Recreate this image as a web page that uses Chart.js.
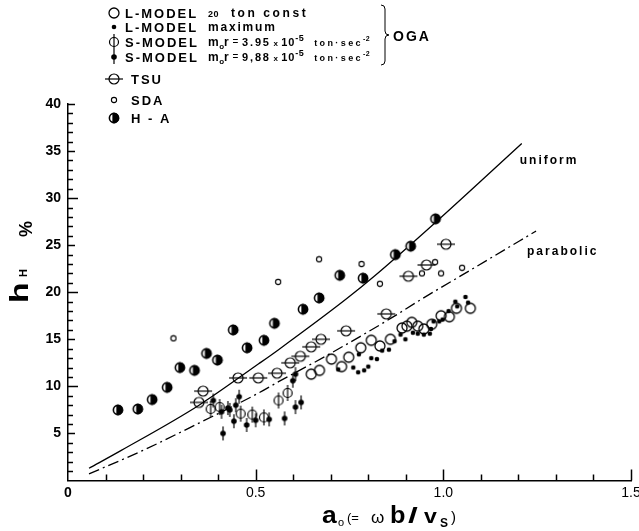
<!DOCTYPE html>
<html>
<head>
<meta charset="utf-8">
<script src="https://cdn.jsdelivr.net/npm/chart.js@4.4.0/dist/chart.umd.min.js"></script>
<style>
  html,body{margin:0;padding:0;background:#fff;}
  #wrap{width:639px;height:531px;}
</style>
</head>
<body>
<div id="wrap"><canvas id="c" width="639" height="531"></canvas></div>
<script>
/* ---- axis ticks ---- */
var xTickVals=[0,0.5,1.0,1.5], xTickLabels=['0','0.5','1.0','1.5'];
var yTickVals=[5,10,15,20,25,30,35,40], yTickLabels=['5','10','15','20','25','30','35','40'];

/* ---- theory curves (a0 , hH %) ---- */
var uniA=[0.056,0.142,0.349,0.508,0.561,0.742,0.819,0.976,1.209];
var uniH=[1.3,3.2,8.0,12.4,13.9,19.3,21.8,27.3,35.8];
var parA=[0.056,0.2,0.349,0.508,0.561,0.686,0.863,0.935,1.07,1.247];
var parH=[0.7,3.2,6.1,9.3,10.5,13.2,17.3,19.1,22.3,26.5];

/* ---- OGA experiments ---- */
var lConstA=[0.648,0.670,0.702,0.729,0.748,0.780,0.808,0.831,0.859,0.890,0.903,0.916,0.932,0.948,0.969,0.994,1.016,1.035,1.072];
var lConstH=[11.3,11.7,12.9,12.1,13.1,14.1,14.9,14.3,15.0,16.2,16.4,16.8,16.4,16.1,16.6,17.5,17.4,18.3,18.3];
var lMaxA=[0.720,0.760,0.773,0.789,0.800,0.775,0.808,0.823,0.837,0.855,0.870,0.886,0.899,0.919,0.932,0.948,0.964,0.967,0.974,0.989,0.998,1.014,1.032,1.037,1.059,1.066];
var lMaxH=[11.8,12.0,11.5,11.7,12.1,13.4,13.0,12.9,13.8,13.9,14.8,15.5,15.0,15.7,15.6,15.5,15.6,16.1,16.9,16.9,17.1,18.0,19.0,18.5,19.5,18.9];
var sOpenA=[0.380,0.404,0.460,0.491,0.522,0.561,0.585];
var sOpenH=[7.6,7.8,7.1,7.0,6.7,8.5,9.3];
var sFillA=[0.387,0.409,0.413,0.426,0.431,0.442,0.447,0.456,0.476,0.500,0.536,0.577,0.599,0.606,0.606,0.621];
var sFillH=[8.5,7.3,5.0,7.7,7.5,6.3,8.0,8.9,5.9,6.4,6.5,6.6,10.6,11.3,7.8,8.3];

/* ---- other data ---- */
var tsuA=[0.349,0.360,0.453,0.507,0.557,0.592,0.619,0.648,0.674,0.741,0.848,0.907,0.955,1.007];
var tsuH=[8.3,9.5,10.9,10.9,11.4,12.5,13.2,14.2,15.0,15.9,17.7,21.7,22.9,25.1];
var sdaA=[0.281,0.560,0.669,0.782,0.831,0.943,0.978,0.994,1.050];
var sdaH=[15.1,21.1,23.5,23.0,20.9,22.0,23.2,22.0,22.6];
var haA=[0.133,0.186,0.224,0.264,0.298,0.337,0.369,0.398,0.440,0.477,0.522,0.550,0.626,0.669,0.724,0.786,0.872,0.913,0.979];
var haH=[7.5,7.6,8.6,9.9,12.0,11.7,13.5,12.8,16.0,14.1,14.9,16.7,18.2,19.4,21.8,21.5,24.0,24.9,27.8];

/* ---- legend ---- */
var legSyms=['lConst','lMax','sOpen','sFill','tsu','sda','ha'];
var legNames=['L-MODEL','L-MODEL','S-MODEL','S-MODEL','TSU','SDA','H - A'];
var legY=[13,27,42,57,79,100,118];

var FF='"Liberation Sans", Arial, sans-serif';

function pts(xs,ys){return xs.map(function(v,i){return {x:v,y:ys[i]};});}

/* custom marker images */
function mark(sz,fn){
  var c=document.createElement('canvas');c.width=sz;c.height=sz;
  var g=c.getContext('2d');g.translate(sz/2,sz/2);g.strokeStyle='#000';g.fillStyle='#000';fn(g);return c;
}
var M={
  lConst:mark(14,function(g){g.lineWidth=1.3;g.beginPath();g.arc(0,0,5,0,Math.PI*2);g.stroke();}),
  lMax:mark(8,function(g){g.beginPath();g.arc(0,0,2.3,0,Math.PI*2);g.fill();}),
  sOpen:mark(20,function(g){g.lineWidth=1.2;g.beginPath();g.arc(0,0,4.5,0,Math.PI*2);g.stroke();
    g.beginPath();g.moveTo(0,-8);g.lineTo(0,8);g.stroke();}),
  sFill:mark(18,function(g){g.beginPath();g.arc(0,0,2.8,0,Math.PI*2);g.fill();
    g.lineWidth=1.2;g.beginPath();g.moveTo(0,-7);g.lineTo(0,7);g.stroke();}),
  tsu:mark(22,function(g){g.lineWidth=1.2;g.beginPath();g.arc(0,0,5,0,Math.PI*2);g.stroke();
    g.beginPath();g.moveTo(-9,0);g.lineTo(9,0);g.stroke();}),
  sda:mark(8,function(g){g.lineWidth=1.1;g.beginPath();g.arc(0,0,2.6,0,Math.PI*2);g.stroke();}),
  ha:mark(14,function(g){g.fillStyle='#fff';g.beginPath();g.arc(0,0,5,0,Math.PI*2);g.fill();
    g.fillStyle='#000';g.beginPath();g.arc(0,0,5.2,-Math.PI*0.6,Math.PI*0.6);g.fill();
    g.lineWidth=1.6;g.beginPath();g.arc(0,0,4.6,0,Math.PI*2);g.stroke();})
};

/* text run helper: [text, font, dy, letterSpacing] */
function runs(ctx,x,y,list){
  list.forEach(function(r){
    ctx.font=r[1]+' '+FF;ctx.letterSpacing=(r[3]||0)+'px';
    ctx.fillText(r[0],x,y+(r[2]||0));
    x+=ctx.measureText(r[0]).width;
  });
  ctx.letterSpacing='0px';
  return x;
}
var legNotes=[
  [['20','bold 9px',0,0.5],['  ton const','bold 12px',0,2.6]],
  [['maximum','bold 12px',0,1.8]],
  [['m','bold 12px',0,0.5],['o','bold 8px',3,0],['r','bold 12px',0,0.5],[' = ','10px',-1,0.5],['3.95','bold 11px',0,1.8],[' x ','bold 8px',0,0.5],['10','bold 11px',0,1],['-5','bold 9px',-5,0.5],['  ton·sec','bold 9px',0,2.4],['-2','bold 7px',-5,0.5]],
  [['m','bold 12px',0,0.5],['o','bold 8px',3,0],['r','bold 12px',0,0.5],[' = ','10px',-1,0.5],['9,88','bold 11px',0,1.8],[' x ','bold 8px',0,0.5],['10','bold 11px',0,1],['-5','bold 9px',-5,0.5],['  ton·sec','bold 9px',0,2.4],['-2','bold 7px',-5,0.5]],
  [],[],[]
];

var decor={id:'decor',afterDraw:function(ch){
  var ctx=ch.ctx,xs=ch.scales.x,ys=ch.scales.y;
  ctx.save();
  ctx.strokeStyle='#000';ctx.fillStyle='#000';ctx.lineWidth=1.5;
  /* inward tick marks */
  var x0=xs.getPixelForValue(0),y0=ys.getPixelForValue(0);
  for(var i=1;i<=15;i++){
    var px=Math.round(xs.getPixelForValue(i/10))+0.5,len=(i%5===0)?11:6;
    ctx.beginPath();ctx.moveTo(px,y0);ctx.lineTo(px,y0-len);ctx.stroke();
  }
  for(var j=1;j<=40;j++){
    var py=Math.round(ys.getPixelForValue(j))+0.5,l=(j%10===0&&j<40)?10:(j%5===0?7:5);
    ctx.beginPath();ctx.moveTo(x0,py);ctx.lineTo(x0+l,py);ctx.stroke();
  }
  /* curve labels */
  var n=uniA.length-1,m=parA.length-1;
  ctx.textBaseline='alphabetic';
  runs(ctx,xs.getPixelForValue(uniA[n])-2,ys.getPixelForValue(uniH[n])+20,[['uniform','bold 12px',0,2]]);
  runs(ctx,xs.getPixelForValue(parA[m])-9,ys.getPixelForValue(parH[m])+24,[['parabolic','bold 12px',0,2]]);
  /* legend */
  legSyms.forEach(function(s,k){
    var img=M[s],y=legY[k];
    ctx.drawImage(img,114-img.width/2,y-img.height/2);
    runs(ctx,k<4?125:131,y+5,[[legNames[k],'bold 13px',0,2]]);
    if(legNotes[k].length)runs(ctx,208,y+4,legNotes[k]);
  });
  ctx.lineWidth=1;
  ctx.beginPath();
  ctx.moveTo(381,5);ctx.quadraticCurveTo(385,5,385,9);ctx.lineTo(385,31);ctx.quadraticCurveTo(385,35,389,35);
  ctx.quadraticCurveTo(385,35,385,39);ctx.lineTo(385,61);ctx.quadraticCurveTo(385,65,381,65);
  ctx.stroke();
  runs(ctx,393,41,[['OGA','bold 14px',0,2]]);
  /* x title */
  [['a','bold 23px',322,0,1.15],['o','11px',338,3,1],['(=','13px',347,-1,1],['ω','17px',371,0,1],
   ['b','bold 23px',390,0,1.1],['/','bold 22px',408,0,1.6],['v','bold 21px',424,0,1.1],['S','bold 12px',440,4,1],[')','15px',451,-1,1]]
  .forEach(function(r){
    ctx.save();ctx.font=r[1]+' '+FF;ctx.translate(r[2],523+r[3]);ctx.scale(r[4],1);ctx.fillText(r[0],0,0);ctx.restore();
  });
  /* y title */
  ctx.save();ctx.translate(28,303);ctx.rotate(-Math.PI/2);
  ctx.save();ctx.scale(1.35,1);ctx.font='bold 25px '+FF;ctx.fillText('h',0,0);ctx.restore();
  ctx.font='bold 11px '+FF;ctx.fillText('H',26,-1);
  ctx.font='bold 18px '+FF;ctx.fillText('%',66,4);
  ctx.restore();
  ctx.restore();
}};

function scat(label,xs,ys,img){
  return {label:label,data:pts(xs,ys),pointStyle:img,pointRadius:5,showLine:false,order:1};
}

new Chart(document.getElementById('c'),{
  type:'scatter',
  data:{datasets:[
    {type:'line',label:'uniform',data:pts(uniA,uniH),borderColor:'#000',borderWidth:1.3,pointRadius:0,
      cubicInterpolationMode:'monotone',fill:false,order:5},
    {type:'line',label:'parabolic',data:pts(parA,parH),borderColor:'#000',borderWidth:1.3,borderDash:[11,4,2,4],
      pointRadius:0,cubicInterpolationMode:'monotone',fill:false,order:5},
    scat('L-MODEL 20 ton const',lConstA,lConstH,M.lConst),
    scat('L-MODEL maximum',lMaxA,lMaxH,M.lMax),
    scat('S-MODEL 3.95',sOpenA,sOpenH,M.sOpen),
    scat('S-MODEL 9.88',sFillA,sFillH,M.sFill),
    scat('TSU',tsuA,tsuH,M.tsu),
    scat('SDA',sdaA,sdaH,M.sda),
    scat('H-A',haA,haH,M.ha)
  ]},
  options:{
    responsive:false,animation:false,events:[],
    layout:{padding:{left:0,top:104,right:8,bottom:0}},
    plugins:{legend:{display:false},tooltip:{enabled:false}},
    scales:{
      x:{type:'linear',min:0,max:1.5,
        afterBuildTicks:function(s){s.ticks=xTickVals.map(function(v){return {value:v};});},
        afterFit:function(s){s.height=50.5;s.paddingLeft=0;s.paddingRight=0;},
        grid:{display:false,drawTicks:false},
        border:{display:true,color:'#000',width:1.5},
        ticks:{padding:4,color:'#000',autoSkip:false,maxRotation:0,
          font:function(c){return {family:FF,size:14,weight:(c.tick&&c.tick.value===0)?'bold':'normal'};},
          callback:function(v,i){return xTickLabels[i];}}
      },
      y:{type:'linear',min:0,max:40,
        afterBuildTicks:function(s){s.ticks=yTickVals.map(function(v){return {value:v};});},
        afterFit:function(s){s.width=68;s.paddingTop=0;s.paddingBottom=0;},
        grid:{display:false,drawTicks:false},
        border:{display:true,color:'#000',width:1.5},
        ticks:{padding:7,color:'#000',autoSkip:false,font:{family:FF,size:14,weight:'bold'},
          callback:function(v,i){return yTickLabels[i];}}
      }
    }
  },
  plugins:[decor]
});
</script>
</body>
</html>
